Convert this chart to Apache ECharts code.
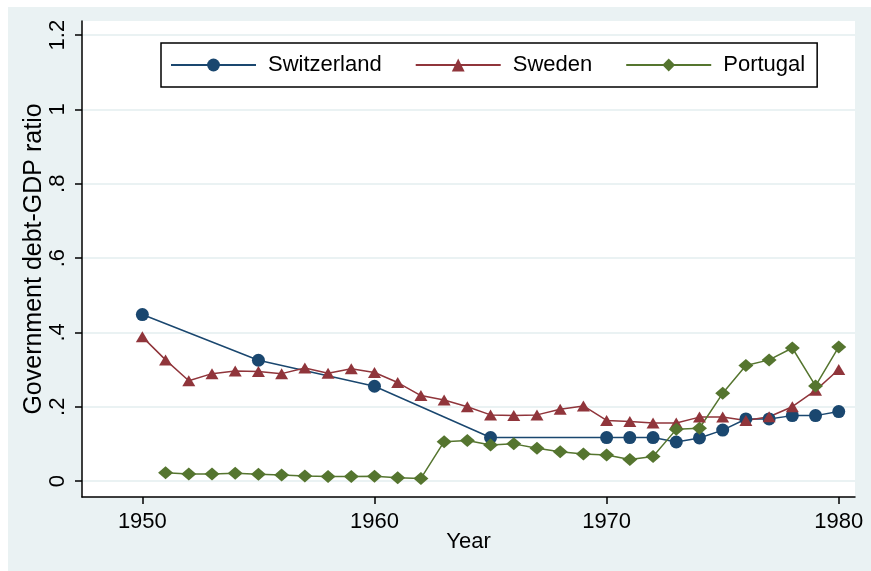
<!DOCTYPE html>
<html>
<head>
<meta charset="utf-8">
<script src="https://cdn.jsdelivr.net/npm/echarts@6/dist/echarts.min.js"></script>
<style>
	html, body { margin: 0; padding: 0; background: #fff; }
	#main { position: absolute; left: 8px; top: 7px; width: 863px; height: 564px; }
</style>
</head>
<body>
<div id="main"></div>
<script>
// Switzerland (only every 5 years before 1970)
var swissYears = [1950, 1955, 1960, 1965, 1970, 1971, 1972, 1973, 1974, 1975, 1976, 1977, 1978, 1979, 1980];
var swissDebt = [0.448, 0.325, 0.255, 0.117, 0.117, 0.117, 0.117, 0.105, 0.116, 0.137, 0.167, 0.167, 0.176, 0.176, 0.187];

var swedenYears = [1950, 1951, 1952, 1953, 1954, 1955, 1956, 1957, 1958, 1959, 1960, 1961, 1962, 1963, 1964, 1965,
	1966, 1967, 1968, 1969, 1970, 1971, 1972, 1973, 1974, 1975, 1976, 1977, 1978, 1979, 1980];
var swedenDebt = [0.388, 0.326, 0.270, 0.289, 0.296, 0.295, 0.289, 0.304, 0.290, 0.302, 0.292, 0.265, 0.230, 0.218, 0.200, 0.178,
	0.176, 0.178, 0.193, 0.202, 0.163, 0.160, 0.156, 0.156, 0.172, 0.172, 0.163, 0.173, 0.200, 0.244, 0.300];

var portugalYears = [1951, 1952, 1953, 1954, 1955, 1956, 1957, 1958, 1959, 1960, 1961, 1962, 1963, 1964, 1965,
	1966, 1967, 1968, 1969, 1970, 1971, 1972, 1973, 1974, 1975, 1976, 1977, 1978, 1979, 1980];
var portugalDebt = [0.022, 0.019, 0.019, 0.021, 0.018, 0.016, 0.0135, 0.012, 0.012, 0.013, 0.009, 0.007, 0.106, 0.109, 0.097,
	0.100, 0.088, 0.079, 0.073, 0.070, 0.058, 0.066, 0.139, 0.142, 0.236, 0.311, 0.326, 0.358, 0.256, 0.361];

var xTicks = [1950, 1960, 1970, 1980];
var yTicks = [0, 0.2, 0.4, 0.6, 0.8, 1, 1.2];
var yTickLabels = ['0', '.2', '.4', '.6', '.8', '1', '1.2'];

function pairs(xs, ys) {
	var out = [];
	for (var i = 0; i < xs.length; i++) {
		out.push([xs[i], ys[i]]);
	}
	return out;
}

var font = 'Liberation Sans';
var chart = echarts.init(document.getElementById('main'));

var option = {
	animation: false,
	backgroundColor: '#eaf2f3',
	grid: {
		left: 74,
		top: 14,
		right: 16,
		bottom: 74,
		outerBoundsMode: 'none',
		containLabel: false,
		show: true,
		backgroundColor: '#fff',
		borderWidth: 0
	},
	legend: {
		left: 153,
		top: 36,
		itemWidth: 85,
		itemHeight: 16,
		itemGap: 33,
		padding: [11, 12, 11, 9],
		borderColor: '#000',
		borderWidth: 1.5,
		borderRadius: 0,
		backgroundColor: '#fff',
		textStyle: {
			fontFamily: font,
			fontSize: 22,
			color: '#000',
			padding: [0, 0, 0, 7]
		},
		data: ['Switzerland', 'Sweden', 'Portugal']
	},
	xAxis: {
		type: 'value',
		min: 1947.4,
		max: 1980.7,
		name: 'Year',
		nameLocation: 'middle',
		nameGap: 34,
		nameMoveOverlap: false,
		nameTextStyle: { fontFamily: font, fontSize: 22, color: '#000' },
		axisLine: { show: true, onZero: false, lineStyle: { color: '#000', width: 1.5 } },
		axisTick: { show: true, length: 7, lineStyle: { color: '#000', width: 1.5 }, customValues: xTicks },
		axisLabel: {
			fontFamily: font, fontSize: 22, color: '#000', margin: 14,
			customValues: xTicks,
			formatter: function (v) { return String(Math.round(v)); }
		},
		splitLine: { show: false }
	},
	yAxis: {
		type: 'value',
		min: -0.043,
		max: 1.238,
		name: 'Government debt-GDP ratio',
		nameLocation: 'middle',
		nameGap: 35,
		nameMoveOverlap: false,
		nameTextStyle: { fontFamily: font, fontSize: 25, color: '#000' },
		axisLine: { show: true, onZero: false, lineStyle: { color: '#000', width: 1.5 } },
		axisTick: { show: true, length: 7, lineStyle: { color: '#000', width: 1.5 }, customValues: yTicks },
		axisLabel: {
			fontFamily: font, fontSize: 22, color: '#000', margin: 13, rotate: 90,
			customValues: yTicks,
			formatter: function (v) {
				var best = 0;
				for (var i = 0; i < yTicks.length; i++) {
					if (Math.abs(yTicks[i] - v) < Math.abs(yTicks[best] - v)) best = i;
				}
				return yTickLabels[best];
			}
		},
		splitLine: { show: true, lineStyle: { color: '#eaf2f3', width: 2 } }
	},
	series: [
		{
			name: 'Switzerland',
			type: 'line',
			data: pairs(swissYears, swissDebt),
			symbol: 'circle',
			symbolSize: 13,
			color: '#1a476f',
			lineStyle: { width: 1.5, color: '#1a476f' },
			itemStyle: { color: '#1a476f' }
		},
		{
			name: 'Sweden',
			type: 'line',
			data: pairs(swedenYears, swedenDebt),
			symbol: 'triangle',
			symbolSize: [13, 11],
			color: '#90353b',
			lineStyle: { width: 1.5, color: '#90353b' },
			itemStyle: { color: '#90353b' }
		},
		{
			name: 'Portugal',
			type: 'line',
			data: pairs(portugalYears, portugalDebt),
			symbol: 'diamond',
			symbolSize: [15, 13],
			color: '#55752f',
			lineStyle: { width: 1.5, color: '#55752f' },
			itemStyle: { color: '#55752f' }
		}
	]
};

chart.setOption(option);
</script>
</body>
</html>
